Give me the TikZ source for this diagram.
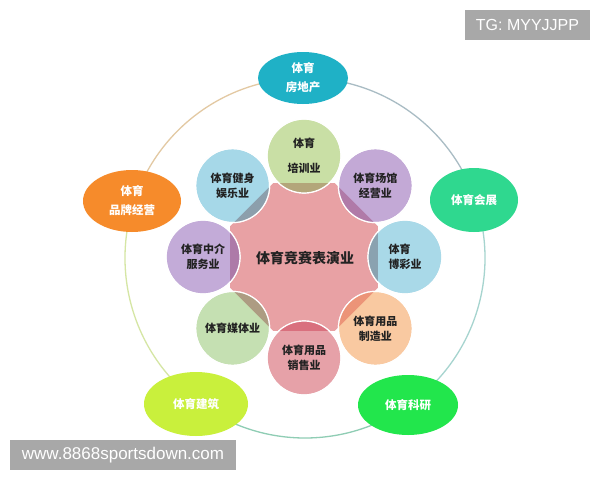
\documentclass[tikz,border=0pt]{standalone}
\usepackage{fontspec}
\setmainfont{Noto Sans CJK SC}
\newfontfamily\wmfont{Liberation Sans}
\usetikzlibrary{shapes.geometric}
\definecolor{corepink}{HTML}{E8A1A4}
\definecolor{cGreenA}{HTML}{C9DFA5}
\definecolor{cPurpleA}{HTML}{C3A9D6}
\definecolor{cBlueA}{HTML}{A9D9E8}
\definecolor{cOrangeA}{HTML}{F9C9A1}
\definecolor{cPinkA}{HTML}{E6A1A8}
\definecolor{cGreenB}{HTML}{C5E0B2}
\definecolor{cPurpleB}{HTML}{C3ABD8}
\definecolor{cBlueB}{HTML}{A6D8E8}
\definecolor{oGreenA}{HTML}{B3A67A}
\definecolor{oPurpleA}{HTML}{B07AA8}
\definecolor{oBlueA}{HTML}{8AA2B0}
\definecolor{oOrangeA}{HTML}{EC9478}
\definecolor{oPinkA}{HTML}{D9707E}
\definecolor{oGreenB}{HTML}{AD9C82}
\definecolor{oPurpleB}{HTML}{AD7AA8}
\definecolor{oBlueB}{HTML}{8C9FAC}
\definecolor{eTeal}{HTML}{1FB1C6}
\definecolor{eOrange}{HTML}{F68B2B}
\definecolor{eMint}{HTML}{2FD88F}
\definecolor{eLime}{HTML}{C9F03C}
\definecolor{eGreen}{HTML}{22E64C}
\definecolor{rTR}{HTML}{A9BCC4}
\definecolor{rR}{HTML}{A6D4CF}
\definecolor{rB}{HTML}{8FCDB4}
\definecolor{rL}{HTML}{D5E6A4}
\definecolor{rTL}{HTML}{E3C9A3}
\definecolor{wmgray}{HTML}{A8A8A8}
\definecolor{ink}{HTML}{222222}
\tikzset{
  ringarc/.style={line width=1.3pt, line cap=round},
  petal/.style={circle, minimum size=74pt, inner sep=0pt, draw=white, line width=1.2pt,
    font=\fontsize{11}{15}\selectfont\bfseries, align=center, text=ink},
  outerell/.style={ellipse, inner sep=0pt, font=\fontsize{11.5}{19}\selectfont\bfseries,
    text=white, align=center},
  wmbox/.style={fill=wmgray, text=white, inner sep=0pt, font=\wmfont\fontsize{16}{16}\selectfont},
  coretext/.style={font=\fontsize{14}{16}\selectfont\bfseries, text=ink},
}
\begin{document}
\begin{tikzpicture}[x=1pt,y=-1pt]
\useasboundingbox (0,0) rectangle (600,480);
\fill[white] (0,0) rectangle (600,480);
\coordinate (o) at (305,258);
\coordinate (c) at (304,257);
% outer ring
\draw[ringarc, rTR] ([shift={(270:180)}]o) arc[start angle=270, end angle=341, radius=180];
\draw[ringarc, rR]  ([shift={(341:180)}]o) arc[start angle=341, end angle=415, radius=180];
\draw[ringarc, rB]  ([shift={(55:180)}]o)  arc[start angle=55, end angle=127, radius=180];
\draw[ringarc, rL]  ([shift={(127:180)}]o) arc[start angle=127, end angle=198, radius=180];
\draw[ringarc, rTL] ([shift={(198:180)}]o) arc[start angle=198, end angle=270, radius=180];
% outer ellipses
\node[outerell, fill=eTeal, minimum width=90pt, minimum height=52pt] (fdc) at (303,78) {体育\\房地产};
\node[outerell, fill=eOrange, minimum width=98pt, minimum height=62pt] (ppjy) at (132,201) {体育\\品牌经营};
\node[outerell, fill=eMint, minimum width=88pt, minimum height=64pt] (hz) at (474,200) {体育会展};
\node[outerell, fill=eLime, minimum width=104pt, minimum height=64pt] (jz) at (196,404) {体育建筑};
\node[outerell, fill=eGreen, minimum width=100pt, minimum height=60pt] (ky) at (408,405) {体育科研};
% core octagon
\def\octagon{([shift={(22.5:80)}]c) -- ([shift={(67.5:80)}]c) -- ([shift={(112.5:80)}]c) -- ([shift={(157.5:80)}]c) -- ([shift={(202.5:80)}]c) -- ([shift={(247.5:80)}]c) -- ([shift={(292.5:80)}]c) -- ([shift={(337.5:80)}]c) -- cycle}
\fill[corepink] \octagon;
% petals
\node[petal, fill=cGreenA]  (px) at ([shift={(270:101)}]c) {体育\\[10pt]培训业};
\node[petal, fill=cPurpleA] (pc) at ([shift={(315:101)}]c) {体育场馆\\经营业};
\node[petal, fill=cBlueA, align=left] (pb) at ([shift={(0:101)}]c) {体育\\博彩业};
\node[petal, fill=cOrangeA] (pz) at ([shift={(45:101)}]c) {体育用品\\制造业};
\node[petal, fill=cPinkA]   (ps) at ([shift={(90:101)}]c) {体育用品\\销售业};
\node[petal, fill=cGreenB]  (pm) at ([shift={(135:101)}]c) {体育媒体业};
\node[petal, fill=cPurpleB] (pj) at ([shift={(180:101)}]c) {体育中介\\服务业};
\node[petal, fill=cBlueB]   (pf) at ([shift={(225:101)}]c) {体育健身\\娱乐业};
% overlaps
\begin{scope}
  \clip \octagon;
  \foreach \n/\oc in {px/oGreenA, pc/oPurpleA, pb/oBlueA, pz/oOrangeA, ps/oPinkA, pm/oGreenB, pj/oPurpleB, pf/oBlueB}
    \fill[\oc] (\n.center) circle[radius=37];
\end{scope}
\foreach \n in {px, pc, pb, pz, ps, pm, pj, pf}
  \draw[white, line width=1.2pt] (\n.center) circle[radius=37];
\node[coretext] (core) at (305,258) {体育竞赛表演业};
% watermarks
\node[wmbox, minimum width=125pt, minimum height=30pt] (tg) at (527.5,25) {TG: MYYJJPP};
\node[wmbox, minimum width=226pt, minimum height=30pt, font=\wmfont\fontsize{17}{17}\selectfont] (www) at (123,455) {www.8868sportsdown.com};
\end{tikzpicture}
\end{document}
